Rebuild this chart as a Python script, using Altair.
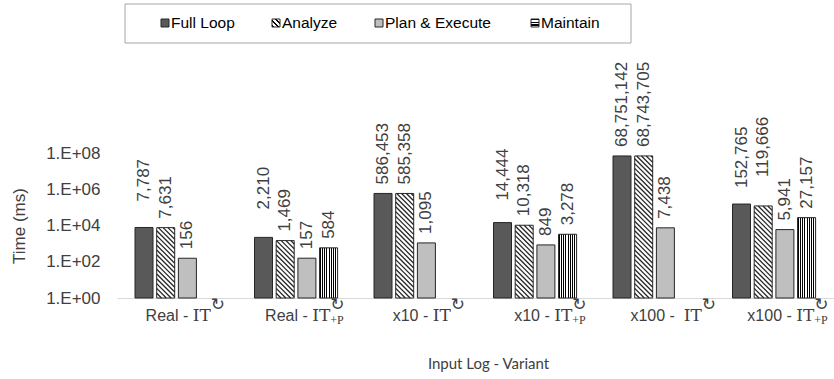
import math
import altair as alt
import pandas as pd

# ---- data -------------------------------------------------------------
variants = ["Real - IT↻", "Real - IT↻+P", "x10 - IT↻", "x10 - IT↻+P", "x100 -  IT↻", "x100 - IT↻+P"]
phases = ["Full Loop", "Analyze", "Plan & Execute", "Maintain"]
full_loop = [7787, 2210, 586453, 14444, 68751142, 152765]
analyze = [7631, 1469, 585358, 10318, 68743705, 119666]
plan_execute = [156, 157, 1095, 849, 7438, 5941]
maintain = [None, 584, None, 3278, None, 27157]
y_ticks = [1, 1e2, 1e4, 1e6, 1e8]

# ---- layout -----------------------------------------------------------
W, H = 717, 145
PAD_L, PAD_T = 117, 153
PAD_B = 379 - PAD_T - H
N = len(variants)
GROUP_PX = W / N
OUTER_PX, STEP_PX, BAR_PX = 18, 21.7, 18
PX_PER_DEC = H / 8.0
LABEL_GAP = 9
# extra lift for a few data labels so neighbouring labels stay clear
label_lift = {(0, "Full Loop"): 17, (1, "Full Loop"): 19, (3, "Full Loop"): 13,
              (5, "Full Loop"): 7, (5, "Analyze"): 20}
# where the serif "IT" starts, relative to the group centre (px)
it_offset_px = [16, 16, 17, 19, 29, 22]

DARK = "#595959"
LIGHT = "#BFBFBF"
EDGE = "#262626"
TEXT = "#404040"
SANS = "Liberation Sans"

series = {"Full Loop": full_loop, "Analyze": analyze,
          "Plan & Execute": plan_execute, "Maintain": maintain}

rows = []
for g, v in enumerate(variants):
    for j, p in enumerate(phases):
        val = series[p][g]
        if val is None:
            continue
        xl = g + (OUTER_PX + j * STEP_PX) / GROUP_PX
        xr = xl + BAR_PX / GROUP_PX
        lift = LABEL_GAP + label_lift.get((g, p), 0)
        rows.append({"variant": v, "phase": p, "value": val, "xl": xl, "xr": xr,
                     "xc": (xl + xr) / 2,
                     "label_y": val * 10 ** (lift / PX_PER_DEC)})
bars = pd.DataFrame(rows)

# diagonal hatch segments inside the Analyze bars
HATCH_P = 4.8
hatch = []
for _, r in bars[bars.phase == "Analyze"].iterrows():
    hb = math.log10(r.value) * PX_PER_DEC
    k = 1
    while k * HATCH_P < hb + BAR_PX:
        c = k * HATCH_P
        u1, u2 = max(0.0, c - hb), min(float(BAR_PX), c)
        if u2 - u1 > 0.4:
            hatch.append({"x1": r.xl + u1 / GROUP_PX, "x2": r.xl + u2 / GROUP_PX,
                          "y1": 10 ** ((c - u1) / PX_PER_DEC),
                          "y2": 10 ** ((c - u2) / PX_PER_DEC)})
        k += 1
hatch = pd.DataFrame(hatch)


def stripes(n, x1, y1, x2, y2, frac=0.5, dark="#000000", light="#FFFFFF"):
    stops = []
    for k in range(n):
        s, m, e = k / n, (k + frac) / n, (k + 1) / n
        stops += [{"offset": s, "color": dark}, {"offset": m, "color": dark},
                  {"offset": m, "color": light}, {"offset": e, "color": light}]
    return {"gradient": "linear", "x1": x1, "y1": y1, "x2": x2, "y2": y2, "stops": stops}


xs = alt.Scale(domain=[0, N], nice=False, zero=False)
ys = alt.Scale(type="log", domain=[1, 1e8], nice=False)

x_axis = alt.Axis(labels=False, ticks=False, grid=False, domainColor="#D9D9D9",
                  title="Input Log - Variant", titleFont="Lato", titleFontSize=15,
                  titleFontWeight="normal", titleColor=TEXT, titleX=371, titleY=65,
                  titleAlign="center", titleBaseline="middle")
y_axis = alt.Axis(values=y_ticks, labelExpr="'1.E+0' + format(log(datum.value)/log(10), 'd')",
                  ticks=False, domain=False, grid=False, labelFont=SANS, labelFontSize=17,
                  labelColor=TEXT, labelPadding=17, title="Time (ms)", titleFont=SANS,
                  titleFontSize=17, titleFontWeight="normal", titleColor=TEXT,
                  titleX=-98, titleY=H / 2, titleAngle=270, titleAlign="center",
                  titleBaseline="middle")


def X(field):
    return alt.X(field, scale=xs, axis=x_axis)


def Y(field):
    return alt.Y(field, scale=ys, axis=y_axis)


base = alt.Chart(bars)


def bar_layer(phase, **mark):
    return base.transform_filter(alt.datum.phase == phase).mark_bar(**mark).encode(
        x=X("xl:Q"), x2="xr:Q", y=Y("value:Q"), y2=alt.datum(1))


full_bars = bar_layer("Full Loop", fill=DARK, stroke=EDGE, strokeWidth=1)
an_fill = bar_layer("Analyze", fill="#FFFFFF")
an_hatch = alt.Chart(hatch).mark_rule(color=EDGE, strokeWidth=1.3, strokeCap="butt").encode(
    x=X("x1:Q"), x2="x2:Q", y=Y("y1:Q"), y2="y2:Q")
an_edge = bar_layer("Analyze", fillOpacity=0, stroke=EDGE, strokeWidth=1)
pe_bars = bar_layer("Plan & Execute", fill=LIGHT, stroke=EDGE, strokeWidth=1)
mt_bars = bar_layer("Maintain", fill=stripes(8, 0, 0, 1, 0), stroke=EDGE, strokeWidth=1)

values_text = base.mark_text(angle=270, align="left", baseline="middle", font=SANS,
                             fontSize=17, color=TEXT).encode(
    x=X("xc:Q"), y=Y("label_y:Q"), text=alt.Text("value:Q", format=",d"))

# ---- category labels: sans prefix, serif IT, superscript arrow, subscript +P
LAB_FS = 16
SPACE_PX = 0.278 * LAB_FS
IT_PX = 18
lab_rows = []
for g, v in enumerate(variants):
    head, tail = v.split("IT")
    prefix = head.rstrip(" ")
    n_sp = len(head) - len(prefix)
    anchor = g + 0.5 + it_offset_px[g] / GROUP_PX
    lab_rows.append({"prefix": prefix, "a_pre": anchor - n_sp * SPACE_PX / GROUP_PX,
                     "a_it": anchor, "a_sc": anchor + IT_PX / GROUP_PX,
                     "sup": "↻", "sub": "+P" if tail.endswith("+P") else ""})
labs = alt.Chart(pd.DataFrame(lab_rows))
lab_pre = labs.mark_text(align="right", baseline="alphabetic", font=SANS, fontSize=LAB_FS,
                         color=TEXT).encode(x=X("a_pre:Q"), y=alt.value(H + 23), text="prefix:N")
lab_it = labs.mark_text(align="left", baseline="alphabetic", font="DejaVu Serif",
                        fontSize=17, color=TEXT, text="IT").encode(
    x=X("a_it:Q"), y=alt.value(H + 23))
lab_sup = labs.mark_text(align="left", baseline="alphabetic", font="DejaVu Sans",
                         fontSize=17, color=TEXT).encode(
    x=X("a_sc:Q"), y=alt.value(H + 12), text="sup:N")
lab_sub = labs.mark_text(align="left", baseline="alphabetic", font="Liberation Serif",
                         fontSize=12, color=TEXT).encode(
    x=X("a_sc:Q"), y=alt.value(H + 26), text="sub:N")

# ---- legend -------------------------------------------------------------
one = alt.Chart(pd.DataFrame({"k": [0]}))
leg_box = one.mark_rect(fill="#FFFFFF", stroke="#A6A6A6", strokeWidth=1).encode(
    x=alt.value(8), x2=alt.value(514), y=alt.value(-149), y2=alt.value(-110))
swatch_left = [44, 155, 258, 414]
swatch_fill = [DARK, stripes(3, 0, 1, 1, 0, frac=0.4), LIGHT, stripes(3, 0, 0, 0, 1, frac=0.45)]
leg_layers = [leg_box]
for name, sx, f in zip(phases, swatch_left, swatch_fill):
    leg_layers.append(one.mark_rect(fill=f, stroke=EDGE, strokeWidth=1).encode(
        x=alt.value(sx), x2=alt.value(sx + 8), y=alt.value(-134), y2=alt.value(-126)))
    leg_layers.append(one.mark_text(align="left", baseline="middle", font=SANS,
                                    fontSize=15.5, color="#000000", text=name).encode(
        x=alt.value(sx + 10), y=alt.value(-130)))

chart = alt.layer(
    full_bars, an_fill, an_hatch, an_edge, pe_bars, mt_bars, values_text,
    lab_pre, lab_it, lab_sup, lab_sub, *leg_layers,
).properties(
    width=W, height=H, autosize="none",
    padding={"left": PAD_L, "top": PAD_T, "right": 0, "bottom": PAD_B},
    background="#FFFFFF",
).configure_view(stroke=None)

chart.save("out.html", embed_options={"renderer": "svg", "actions": False})
